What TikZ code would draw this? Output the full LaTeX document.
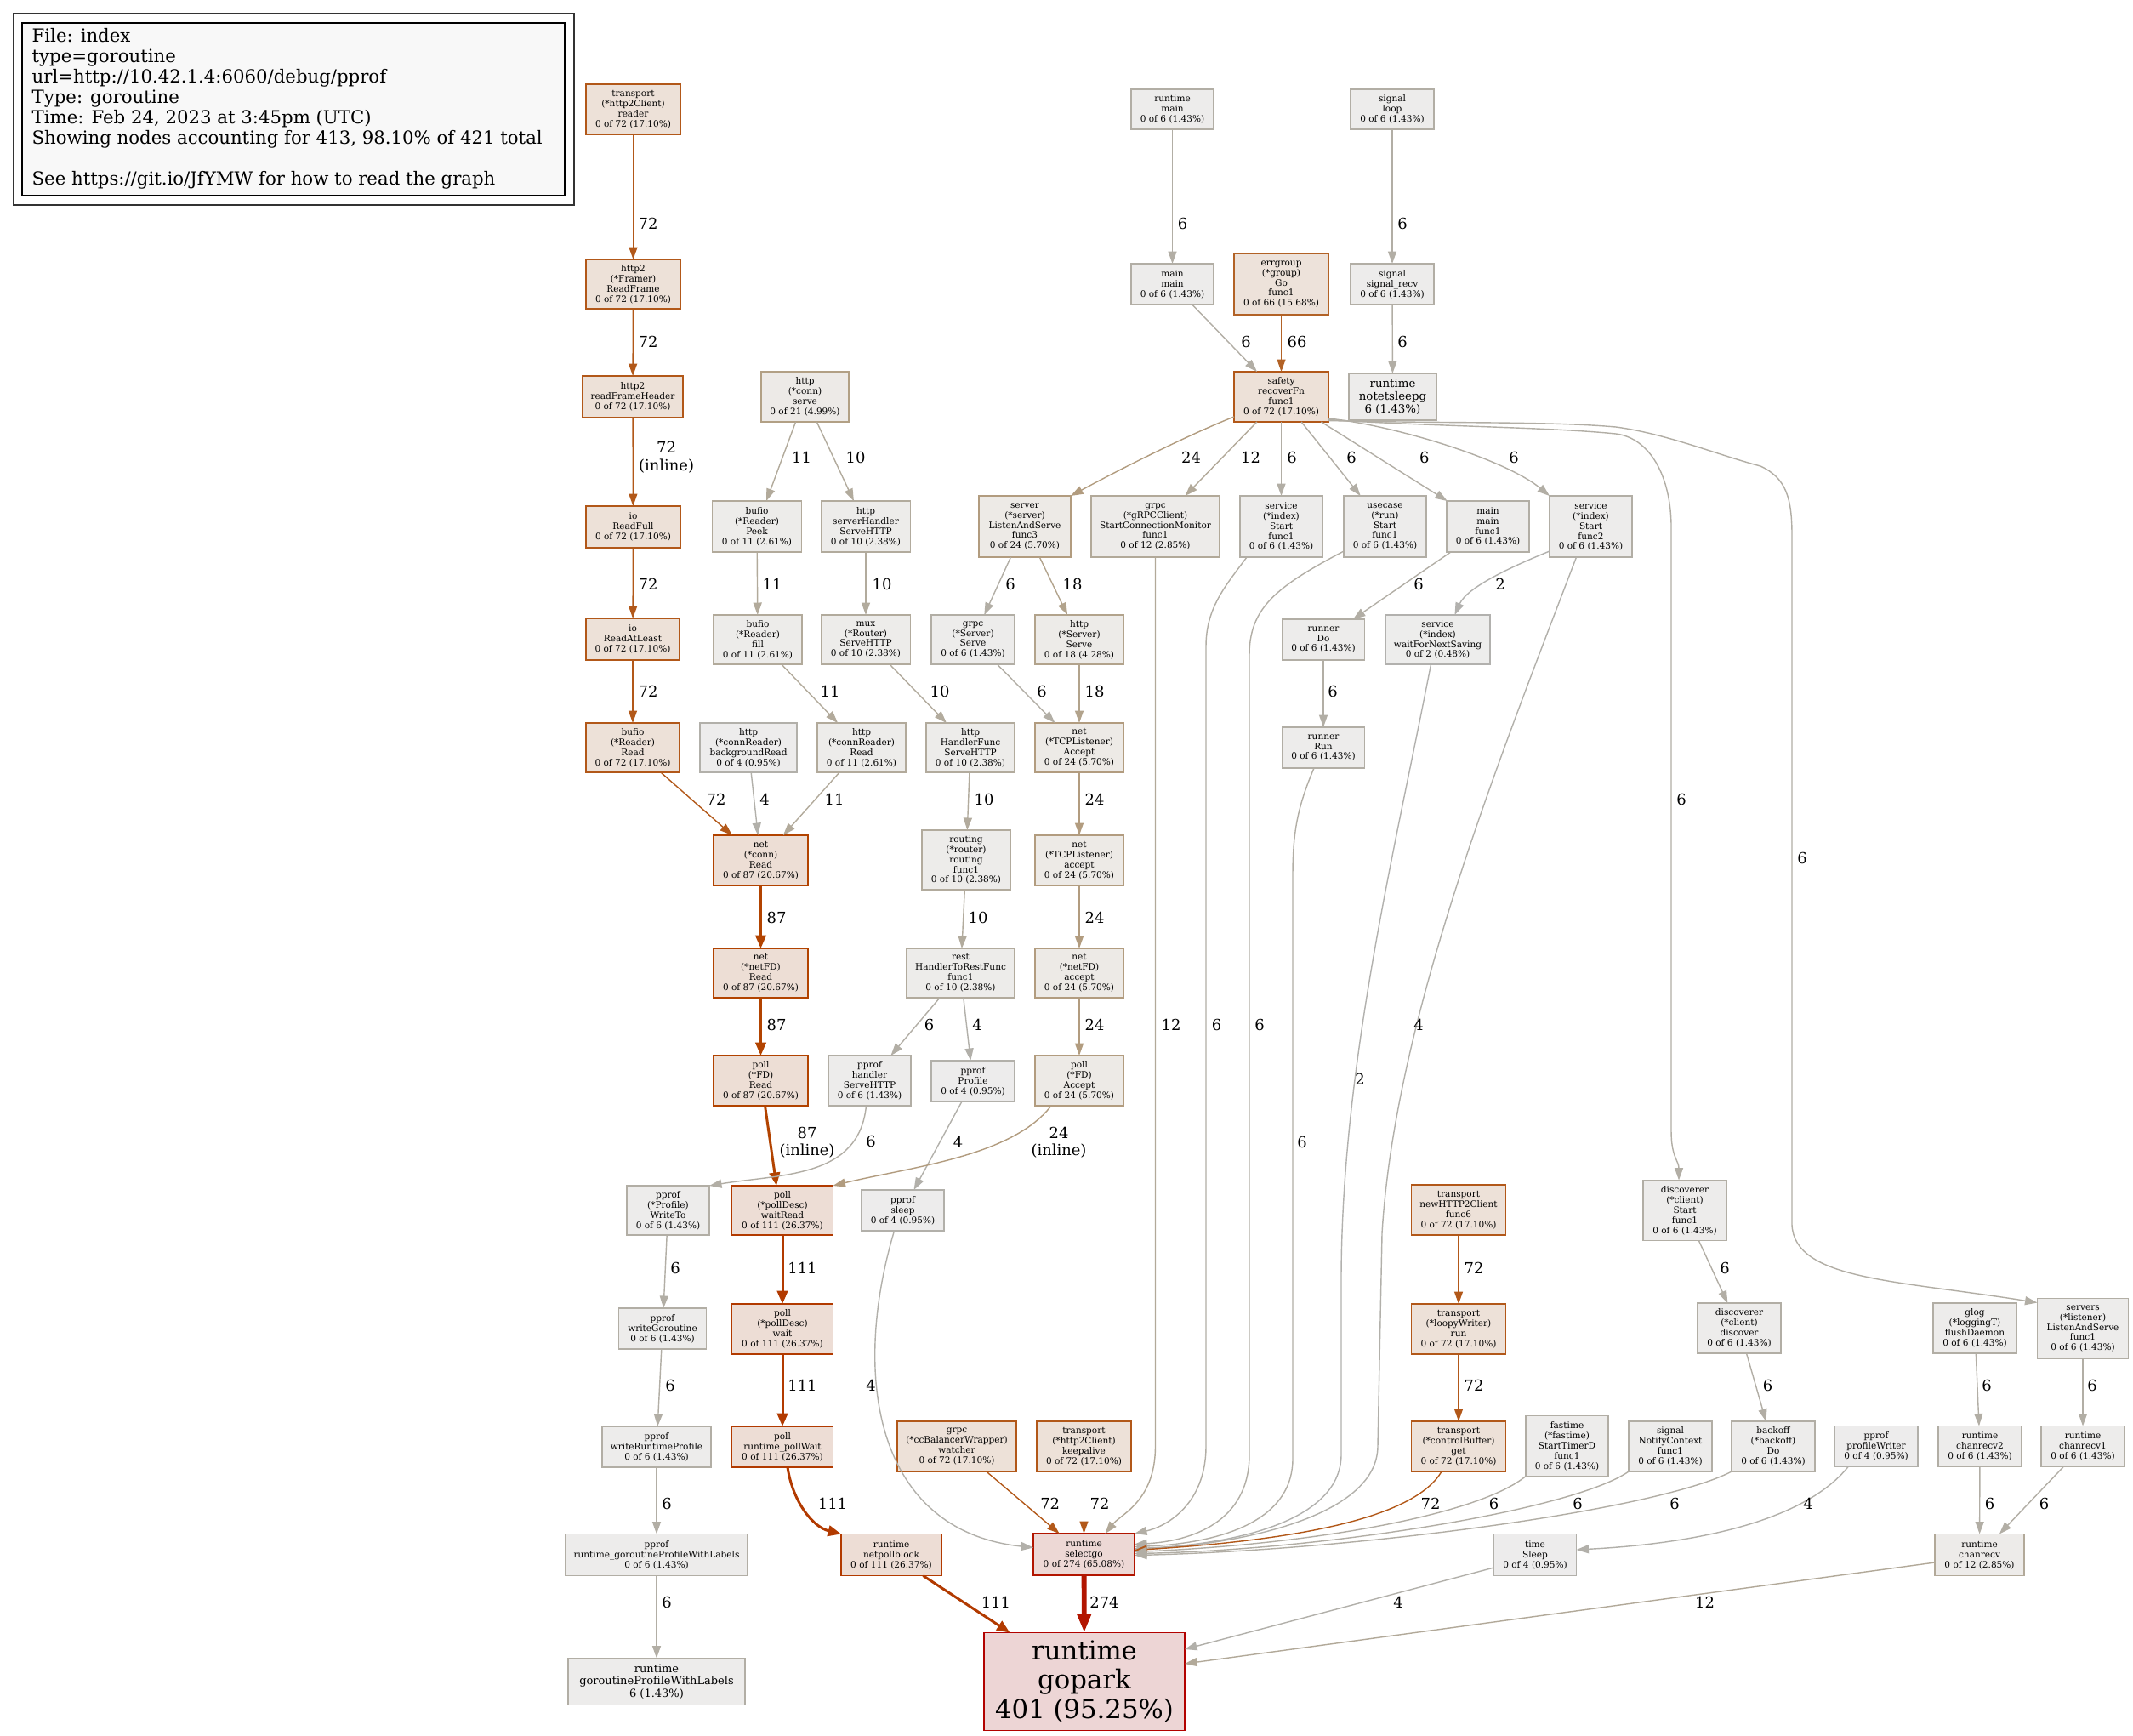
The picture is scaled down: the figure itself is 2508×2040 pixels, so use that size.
\documentclass[tikz,border=0pt]{standalone}
\usepackage{fontspec}
\setmainfont{DejaVu Serif}
\newfontfamily\gvfont{DejaVu Serif}
\usetikzlibrary{arrows.meta,calc}

% weight colours: gvcN = border / edge, gvfN = fill
\definecolor{gvc2}{HTML}{B2B1AE}   \definecolor{gvf2}{HTML}{EDEDEC}
\definecolor{gvc4}{HTML}{B2B0AA}   \definecolor{gvf4}{HTML}{EDECEC}
\definecolor{gvc6}{HTML}{B2AEA5}   \definecolor{gvf6}{HTML}{EDECEB}
\definecolor{gvc10}{HTML}{B2AB9D}  \definecolor{gvf10}{HTML}{EDECEA}
\definecolor{gvc11}{HTML}{B2AA9B}  \definecolor{gvf11}{HTML}{EDECEA}
\definecolor{gvc12}{HTML}{B2A999}  \definecolor{gvf12}{HTML}{EDEBE9}
\definecolor{gvc18}{HTML}{B2A38C}  \definecolor{gvf18}{HTML}{EDEBE8}
\definecolor{gvc21}{HTML}{B2A085}  \definecolor{gvf21}{HTML}{EDEAE7}
\definecolor{gvc24}{HTML}{B29C7F}  \definecolor{gvf24}{HTML}{EDEAE6}
\definecolor{gvc66}{HTML}{B26226}  \definecolor{gvf66}{HTML}{EDE2DA}
\definecolor{gvc72}{HTML}{B25819}  \definecolor{gvf72}{HTML}{EDE1D8}
\definecolor{gvc87}{HTML}{B24300}  \definecolor{gvf87}{HTML}{EDDED5}
\definecolor{gvc111}{HTML}{B23A00} \definecolor{gvf111}{HTML}{EDDDD5}
\definecolor{gvc274}{HTML}{B21500} \definecolor{gvf274}{HTML}{EDD8D5}
\definecolor{gvc401}{HTML}{B20200} \definecolor{gvf401}{HTML}{EDD5D5}
\definecolor{legfill}{HTML}{F8F8F8}

\tikzset{
  gvbox/.style={rectangle, inner sep=0pt, outer sep=0pt, align=center, line width=1pt,
    font=\gvfont\fontsize{6}{6.8}\selectfont},
  n2/.style={gvbox, draw=gvc2, fill=gvf2},
  n4/.style={gvbox, draw=gvc4, fill=gvf4},
  n6/.style={gvbox, draw=gvc6, fill=gvf6},
  n10/.style={gvbox, draw=gvc10, fill=gvf10},
  n11/.style={gvbox, draw=gvc11, fill=gvf11},
  n12/.style={gvbox, draw=gvc12, fill=gvf12},
  n18/.style={gvbox, draw=gvc18, fill=gvf18},
  n21/.style={gvbox, draw=gvc21, fill=gvf21},
  n24/.style={gvbox, draw=gvc24, fill=gvf24},
  n66/.style={gvbox, draw=gvc66, fill=gvf66},
  n72/.style={gvbox, draw=gvc72, fill=gvf72},
  n87/.style={gvbox, draw=gvc87, fill=gvf87},
  n111/.style={gvbox, draw=gvc111, fill=gvf111},
  n274/.style={gvbox, draw=gvc274, fill=gvf274},
  n401/.style={gvbox, draw=gvc401, fill=gvf401},
  link/.style={line width=0.8pt, -{Triangle[length=0.29cm,width=0.2cm]}},
  linkb/.style={line width=1.7pt, -{Triangle[length=0.31cm,width=0.25cm]}},
  linkc/.style={line width=3.3pt, -{Triangle[length=0.45cm,width=0.32cm]}},
  w2/.style={link, draw=gvc2},
  w4/.style={link, draw=gvc4},
  w6/.style={link, draw=gvc6},
  w10/.style={link, draw=gvc10},
  w11/.style={link, draw=gvc11},
  w12/.style={link, draw=gvc12},
  w18/.style={link, draw=gvc18},
  w24/.style={link, draw=gvc24},
  w66/.style={link, draw=gvc66},
  w72/.style={link, draw=gvc72},
  w87/.style={linkb, draw=gvc87},
  w111/.style={linkb, draw=gvc111},
  w274/.style={linkc, draw=gvc274},
  lbl/.style={font=\gvfont\fontsize{10.2}{11.7}\selectfont, inner sep=0pt, align=center, text=black},
  legtext/.style={anchor=base west, inner sep=0pt, font=\gvfont\fontsize{12.1}{13.6}\selectfont},
}

% \gvnode{name}{x}{y}{width}{height}{style}{label}
\newcommand\gvnode[7]{\node[#6, minimum width=#4*0.02cm, minimum height=#5*0.02cm] (#1) at (#2,#3) {#7};}

\begin{document}
\begin{tikzpicture}[x=0.02cm, y=-0.02cm]
\useasboundingbox[fill=white] (0,0) rectangle (2508,2040);

% legend
\node[draw=black!80, line width=1pt, minimum width=659*0.02cm, minimum height=225*0.02cm, inner sep=0pt] (legframe) at (345.5,128.5) {};
\node[draw=black, fill=legfill, line width=1pt, minimum width=638*0.02cm, minimum height=203*0.02cm, inner sep=0pt] (legbox) at (345,128.5) {};
\node[legtext] (leg1) at (37.3,49.3) {File: index};
\node[legtext] (leg2) at (37.3,73.3) {type=goroutine};
\node[legtext] (leg3) at (37.3,97.3) {url=http://10.42.1.4:6060/debug/pprof};
\node[legtext] (leg4) at (37.3,121.3) {Type: goroutine};
\node[legtext] (leg5) at (37.3,145.3) {Time: Feb 24, 2023 at 3:45pm (UTC)};
\node[legtext] (leg6) at (37.3,169.3) {Showing nodes accounting for 413, 98.10\% of 421 total};
\node[legtext] (leg7) at (37.3,217.3) {See https://git.io/JfYMW for how to read the graph};

% nodes
\gvnode{trreader}{744.5}{128.5}{111}{59}{n72}{transport\\(*http2Client)\\reader\\0 of 72 (17.10\%)}
\gvnode{framer}{744.5}{334}{111}{58}{n72}{http2\\(*Framer)\\ReadFrame\\0 of 72 (17.10\%)}
\gvnode{rfh}{744}{466.5}{118}{49}{n72}{http2\\readFrameHeader\\0 of 72 (17.10\%)}
\gvnode{readfull}{744.5}{619.5}{111}{49}{n72}{io\\ReadFull\\0 of 72 (17.10\%)}
\gvnode{readatleast}{744}{751.5}{110}{49}{n72}{io\\ReadAtLeast\\0 of 72 (17.10\%)}
\gvnode{bufread}{744}{879}{110}{58}{n72}{bufio\\(*Reader)\\Read\\0 of 72 (17.10\%)}
\gvnode{connserve}{946.5}{466.5}{103}{59}{n21}{http\\(*conn)\\serve\\0 of 21 (4.99\%)}
\gvnode{peek}{890}{619}{105}{60}{n11}{bufio\\(*Reader)\\Peek\\0 of 11 (2.61\%)}
\gvnode{shserve}{1018}{619}{105}{60}{n10}{http\\serverHandler\\ServeHTTP\\0 of 10 (2.38\%)}
\gvnode{lasf3}{1205}{619}{108}{72}{n24}{server\\(*server)\\ListenAndServe\\func3\\0 of 24 (5.70\%)}
\gvnode{scm}{1358.5}{619}{151}{72}{n12}{grpc\\(*gRPCClient)\\StartConnectionMonitor\\func1\\0 of 12 (2.85\%)}
\gvnode{rtmain}{1378.5}{128.5}{97}{47}{n6}{runtime\\main\\0 of 6 (1.43\%)}
\gvnode{mainmain}{1378.5}{334}{97}{48}{n6}{main\\main\\0 of 6 (1.43\%)}
\gvnode{errgroup}{1506.5}{334}{111}{72}{n66}{errgroup\\(*group)\\Go\\func1\\0 of 66 (15.68\%)}
\gvnode{sigloop}{1637}{128.5}{98}{47}{n6}{signal\\loop\\0 of 6 (1.43\%)}
\gvnode{sigrecv}{1637}{334}{98}{48}{n6}{signal\\signal\_recv\\0 of 6 (1.43\%)}
\gvnode{recover}{1506.5}{466.5}{111}{59}{n72}{safety\\recoverFn\\func1\\0 of 72 (17.10\%)}
\gvnode{notetsleepg}{1637.5}{466.5}{103}{55}{n6,font=\gvfont\fontsize{7.6}{8.5}\selectfont}{runtime\\notetsleepg\\6 (1.43\%)}
\gvnode{sf1}{1506.5}{619}{97}{72}{n6}{service\\(*index)\\Start\\func1\\0 of 6 (1.43\%)}
\gvnode{usecase}{1628.5}{619}{97}{72}{n6}{usecase\\(*run)\\Start\\func1\\0 of 6 (1.43\%)}
\gvnode{mmf1}{1749.5}{619}{97}{60}{n6}{main\\main\\func1\\0 of 6 (1.43\%)}
\gvnode{sf2}{1870.5}{619}{97}{72}{n6}{service\\(*index)\\Start\\func2\\0 of 6 (1.43\%)}
\gvnode{fill}{891}{752}{104}{58}{n11}{bufio\\(*Reader)\\fill\\0 of 11 (2.61\%)}
\gvnode{mux}{1018}{752}{105}{58}{n10}{mux\\(*Router)\\ServeHTTP\\0 of 10 (2.38\%)}
\gvnode{grpcserve}{1144}{752}{98}{58}{n6}{grpc\\(*Server)\\Serve\\0 of 6 (1.43\%)}
\gvnode{httpserve}{1269}{752}{104}{58}{n18}{http\\(*Server)\\Serve\\0 of 18 (4.28\%)}
\gvnode{bgread}{880}{879}{114}{58}{n4}{http\\(*connReader)\\backgroundRead\\0 of 4 (0.95\%)}
\gvnode{crread}{1013}{879}{104}{58}{n11}{http\\(*connReader)\\Read\\0 of 11 (2.61\%)}
\gvnode{hfserve}{1141}{879}{104}{58}{n10}{http\\HandlerFunc\\ServeHTTP\\0 of 10 (2.38\%)}
\gvnode{tcpAccept}{1269}{879}{104}{58}{n24}{net\\(*TCPListener)\\Accept\\0 of 24 (5.70\%)}
\gvnode{connread}{894.5}{1011.5}{111}{59}{n87}{net\\(*conn)\\Read\\0 of 87 (20.67\%)}
\gvnode{routing}{1136}{1011}{104}{70}{n10}{routing\\(*router)\\routing\\func1\\0 of 10 (2.38\%)}
\gvnode{tcpaccept}{1269}{1011.5}{104}{59}{n24}{net\\(*TCPListener)\\accept\\0 of 24 (5.70\%)}
\gvnode{fdread}{894.5}{1144}{111}{58}{n87}{net\\(*netFD)\\Read\\0 of 87 (20.67\%)}
\gvnode{rest}{1129.5}{1144}{127}{58}{n10}{rest\\HandlerToRestFunc\\func1\\0 of 10 (2.38\%)}
\gvnode{fdaccept}{1269}{1144}{104}{58}{n24}{net\\(*netFD)\\accept\\0 of 24 (5.70\%)}
\gvnode{pollfdread}{894.5}{1270.5}{111}{59}{n87}{poll\\(*FD)\\Read\\0 of 87 (20.67\%)}
\gvnode{pphandler}{1022.5}{1270.5}{97}{59}{n6}{pprof\\handler\\ServeHTTP\\0 of 6 (1.43\%)}
\gvnode{ppprofile}{1144}{1271}{98}{48}{n4}{pprof\\Profile\\0 of 4 (0.95\%)}
\gvnode{pollaccept}{1269}{1270.5}{104}{59}{n24}{poll\\(*FD)\\Accept\\0 of 24 (5.70\%)}
\gvnode{writeto}{785.5}{1423}{97}{58}{n6}{pprof\\(*Profile)\\WriteTo\\0 of 6 (1.43\%)}
\gvnode{waitread}{920}{1423}{119}{58}{n111}{poll\\(*pollDesc)\\waitRead\\0 of 111 (26.37\%)}
\gvnode{ppsleep}{1061.5}{1423}{97}{48}{n4}{pprof\\sleep\\0 of 4 (0.95\%)}
\gvnode{writegor}{779}{1562}{103}{48}{n6}{pprof\\writeGoroutine\\0 of 6 (1.43\%)}
\gvnode{pdwait}{920}{1562.5}{119}{59}{n111}{poll\\(*pollDesc)\\wait\\0 of 111 (26.37\%)}
\gvnode{wrp}{772}{1701}{128}{48}{n6}{pprof\\writeRuntimeProfile\\0 of 6 (1.43\%)}
\gvnode{pollwait}{920}{1701}{119}{48}{n111}{poll\\runtime\_pollWait\\0 of 111 (26.37\%)}
\gvnode{watcher}{1125}{1700.5}{140}{59}{n72}{grpc\\(*ccBalancerWrapper)\\watcher\\0 of 72 (17.10\%)}
\gvnode{keepalive}{1274.5}{1700.5}{111}{59}{n72}{transport\\(*http2Client)\\keepalive\\0 of 72 (17.10\%)}
\gvnode{rgpwl}{772}{1828}{214}{49}{n6}{pprof\\runtime\_goroutineProfileWithLabels\\0 of 6 (1.43\%)}
\gvnode{netpollblock}{1048}{1828}{118}{49}{n111}{runtime\\netpollblock\\0 of 111 (26.37\%)}
\gvnode{selectgo}{1274.5}{1827.5}{119}{49}{n274}{runtime\\selectgo\\0 of 274 (65.08\%)}
\gvnode{gpwl}{772}{1977}{208}{55}{n6,font=\gvfont\fontsize{7.4}{8.3}\selectfont}{runtime\\goroutineProfileWithLabels\\6 (1.43\%)}
\gvnode{gopark}{1275}{1977}{236}{115}{n401,font=\gvfont\fontsize{17.5}{19.8}\selectfont}{runtime\\gopark\\401 (95.25\%)}
\gvnode{h2c}{1715}{1422.5}{111}{59}{n72}{transport\\newHTTP2Client\\func6\\0 of 72 (17.10\%)}
\gvnode{loopy}{1715}{1562.5}{111}{59}{n72}{transport\\(*loopyWriter)\\run\\0 of 72 (17.10\%)}
\gvnode{cbget}{1715}{1700.5}{111}{59}{n72}{transport\\(*controlBuffer)\\get\\0 of 72 (17.10\%)}
\gvnode{fastime}{1842.5}{1700}{97}{71}{n6}{fastime\\(*fastime)\\StartTimerD\\func1\\0 of 6 (1.43\%)}
\gvnode{timesleep}{1805}{1828}{97}{49}{n4}{time\\Sleep\\0 of 4 (0.95\%)}
\gvnode{discstart}{1981}{1423}{98}{71}{n6}{discoverer\\(*client)\\Start\\func1\\0 of 6 (1.43\%)}
\gvnode{disc}{2045}{1561.5}{98}{59}{n6}{discoverer\\(*client)\\discover\\0 of 6 (1.43\%)}
\gvnode{notify}{1964}{1700.5}{98}{59}{n6}{signal\\NotifyContext\\func1\\0 of 6 (1.43\%)}
\gvnode{backoff}{2085}{1700.5}{98}{59}{n6}{backoff\\(*backoff)\\Do\\0 of 6 (1.43\%)}
\gvnode{profw}{2206}{1700.5}{98}{48}{n4}{pprof\\profileWriter\\0 of 4 (0.95\%)}
\gvnode{glog}{2322}{1561.5}{98}{59}{n6}{glog\\(*loggingT)\\flushDaemon\\0 of 6 (1.43\%)}
\gvnode{servers}{2449}{1562}{107}{71}{n6}{servers\\(*listener)\\ListenAndServe\\func1\\0 of 6 (1.43\%)}
\gvnode{chanrecvtwo}{2328}{1700.5}{98}{48}{n6}{runtime\\chanrecv2\\0 of 6 (1.43\%)}
\gvnode{chanrecvone}{2449}{1700.5}{98}{48}{n6}{runtime\\chanrecv1\\0 of 6 (1.43\%)}
\gvnode{chanrecv}{2327.5}{1828}{105}{49}{n12}{runtime\\chanrecv\\0 of 12 (2.85\%)}
\gvnode{runnerdo}{1556}{752}{97}{48}{n6}{runner\\Do\\0 of 6 (1.43\%)}
\gvnode{wfns}{1690.5}{752}{123}{58}{n2}{service\\(*index)\\waitForNextSaving\\0 of 2 (0.48\%)}
\gvnode{runnerrun}{1556}{879}{97}{48}{n6}{runner\\Run\\0 of 6 (1.43\%)}

% edges: http2 reader chain
\draw[w72] (trreader) -- (framer) node[lbl] at (762,263) {72};
\draw[w72] (framer) -- (rfh) node[lbl] at (762,401.6) {72};
\draw[w72] (rfh) -- (readfull) node[lbl] at (783.6,538) {72\\(inline)};
\draw[w72] (readfull) -- (readatleast) node[lbl] at (762,687) {72};
\draw[w72] (readatleast) -- (bufread) node[lbl] at (762,813) {72};
\draw[w72] (bufread) -- (connread) node[lbl] at (842,940) {72};
\draw[w4] (bgread) -- (connread) node[lbl] at (899,940) {4};
\draw[w11] (crread) -- (connread) node[lbl] at (981,940) {11};
\draw[w87] (connread) -- (fdread) node[lbl] at (913,1079) {87};
\draw[w87] (fdread) -- (pollfdread) node[lbl] at (913,1205) {87};
\draw[w87] ($(pollfdread.south)+(5,0)$) -- ($(waitread.north)+(-7,0)$) node[lbl] at (949,1343) {87\\(inline)};

% http server side
\draw[w11] (connserve) -- (peek) node[lbl] at (942.6,538) {11};
\draw[w10] (connserve) -- (shserve) node[lbl] at (1006,538) {10};
\draw[w11] (peek) -- (fill) node[lbl] at (908,687) {11};
\draw[w10] (shserve) -- (mux) node[lbl] at (1037,687) {10};
\draw[w11] (fill) -- (crread) node[lbl] at (976,813) {11};
\draw[w10] (mux) -- (hfserve) node[lbl] at (1105,813) {10};
\draw[w6] (lasf3) -- (grpcserve) node[lbl] at (1188,687) {6};
\draw[w18] (lasf3) -- (httpserve) node[lbl] at (1261,687) {18};
\draw[w6] (grpcserve) -- (tcpAccept) node[lbl] at (1225,813) {6};
\draw[w18] (httpserve) -- (tcpAccept) node[lbl] at (1287,813) {18};
\draw[w10] (hfserve) -- (routing) node[lbl] at (1157,940) {10};
\draw[w24] (tcpAccept) -- (tcpaccept) node[lbl] at (1287,940) {24};
\draw[w10] (routing) -- (rest) node[lbl] at (1150,1079) {10};
\draw[w24] (tcpaccept) -- (fdaccept) node[lbl] at (1287,1079) {24};
\draw[w6] (rest) -- (pphandler) node[lbl] at (1092.6,1205) {6};
\draw[w4] (rest) -- (ppprofile) node[lbl] at (1149,1205) {4};
\draw[w24] (fdaccept) -- (pollaccept) node[lbl] at (1287,1205) {24};
\draw[w6] ($(pphandler.south)+(-4,0)$) .. controls (1010,1385) and (920,1380) .. (writeto.north east) node[lbl] at (1024,1342) {6};
\draw[w4] (ppprofile) -- (ppsleep) node[lbl] at (1126.6,1342.5) {4};
\draw[w24] ($(pollaccept.south)+(-33,0)$) .. controls (1190,1360) and (1070,1372) .. (waitread.north east) node[lbl] at (1245,1343) {24\\(inline)};

% profile and poll chains
\draw[w6] (writeto) -- (writegor) node[lbl] at (794,1491) {6};
\draw[w111] (waitread) -- (pdwait) node[lbl] at (943.5,1491) {111};
\draw[w6] (writegor) -- (wrp) node[lbl] at (788,1629) {6};
\draw[w111] (pdwait) -- (pollwait) node[lbl] at (943.5,1629) {111};
\draw[w6] (wrp) -- (rgpwl) node[lbl] at (784,1768) {6};
\draw[w111] ($(pollwait.south)+(6,0)$) .. controls (932,1765) and (955,1795) .. (netpollblock.north west) node[lbl] at (979,1768) {111};
\draw[w6] (rgpwl) -- (gpwl) node[lbl] at (784,1884) {6};
\draw[w111] (netpollblock) -- (gopark) node[lbl] at (1171,1884) {111};
\draw[w274] (selectgo) -- (gopark) node[lbl] at (1298.5,1884) {274};
\draw[w4] ($(ppsleep.south)+(-10,0)$) .. controls (1000,1620) and (1030,1800) .. ($(selectgo.west)+(0,-8)$) node[lbl] at (1024,1629) {4};
\draw[w72] (watcher) -- (selectgo) node[lbl] at (1234.7,1768) {72};
\draw[w72] (keepalive) -- (selectgo) node[lbl] at (1293,1768) {72};

% long edges into selectgo
\draw[w12] (scm.south) -- (1358.5,1700) .. controls (1358.5,1765) and (1318,1780) .. ($(selectgo.north)+(25,0)$) node[lbl] at (1377,1205) {12};
\draw[w6] ($(sf1.south west)+(8,0)$) .. controls (1440,690) and (1418,715) .. (1418,760) -- (1418,1700) .. controls (1418,1770) and (1370,1795) .. (selectgo.north east) node[lbl] at (1430.6,1205) {6};
\draw[w6] ($(usecase.south west)+(0,-7)$) .. controls (1500,690) and (1469,715) .. (1469,770) -- (1469,1710) .. controls (1469,1790) and (1400,1812) .. ($(selectgo.east)+(0,-12)$) node[lbl] at (1481,1205) {6};
\draw[w6] ($(runnerrun.south)+(-11,0)$) .. controls (1525,950) and (1520,980) .. (1520,1030) -- (1520,1715) .. controls (1520,1795) and (1420,1815) .. ($(selectgo.east)+(0,-9)$) node[lbl] at (1531,1342.5) {6};
\draw[w2] ($(wfns.south)+(-8,0)$) .. controls (1640,1000) and (1578,1250) .. (1577,1500) -- (1577,1710) .. controls (1577,1795) and (1430,1817) .. ($(selectgo.east)+(0,-7)$) node[lbl] at (1599,1269) {2};
\draw[w4] ($(sf2.south)+(-17,0)$) .. controls (1760,900) and (1640,1200) .. (1625,1450) -- (1620,1700) .. controls (1620,1790) and (1430,1818) .. ($(selectgo.east)+(0,-6)$) node[lbl] at (1668,1205) {4};
\draw[w72] ($(cbget.south)+(-20,0)$) .. controls (1660,1790) and (1500,1812) .. ($(selectgo.east)+(0,-5)$) node[lbl] at (1682,1768) {72};
\draw[w6] (fastime.south west) .. controls (1740,1780) and (1550,1815) .. ($(selectgo.east)+(0,-3)$) node[lbl] at (1756.5,1768) {6};
\draw[w6] (notify.south west) .. controls (1850,1775) and (1560,1822) .. ($(selectgo.east)+(0,-1)$) node[lbl] at (1855,1768) {6};
\draw[w6] (backoff.south west) .. controls (1950,1775) and (1600,1822) .. ($(selectgo.east)+(0,1)$) node[lbl] at (1969,1768) {6};

% recoverFn fan-out
\draw[w6] (rtmain) -- (mainmain) node[lbl] at (1390.6,263) {6};
\draw[w6] (mainmain) -- (recover) node[lbl] at (1465,401.6) {6};
\draw[w66] (errgroup) -- (recover) node[lbl] at (1525,401.6) {66};
\draw[w6] (sigloop) -- (sigrecv) node[lbl] at (1649,263) {6};
\draw[w6] (sigrecv) -- (notetsleepg) node[lbl] at (1649,401.6) {6};
\draw[w24] ($(recover.west)+(0,23.5)$) .. controls (1400,510) and (1320,550) .. (lasf3.north east) node[lbl] at (1400.6,538) {24};
\draw[w12] (recover) -- (scm) node[lbl] at (1470.6,538) {12};
\draw[w6] (recover) -- (sf1) node[lbl] at (1519,538) {6};
\draw[w6] (recover) -- (usecase) node[lbl] at (1589,538) {6};
\draw[w6] (recover) -- (mmf1) node[lbl] at (1674.7,538) {6};
\draw[w6] ($(recover.east)+(0,25.5)$) .. controls (1640,500) and (1770,540) .. (sf2.north west) node[lbl] at (1780,538) {6};
\draw[w6] ($(recover.east)+(0,27)$) .. controls (1700,502) and (1820,502) .. (1900,510) .. controls (1940,515) and (1965,560) .. (1965,620) -- (1965,1330) .. controls (1965,1360) and (1974,1365) .. ($(discstart.north)+(-7,0)$) node[lbl] at (1977,940) {6};
\draw[w6] ($(recover.east)+(0,28)$) .. controls (1700,498) and (1820,495) .. (1900,502) .. controls (1960,510) and (2020,535) .. (2070,548) .. controls (2100,562) and (2107,585) .. (2107,630) -- (2107,1440) .. controls (2110,1505) and (2230,1505) .. ($(servers.north west)+(0,5)$) node[lbl] at (2119,1009) {6};
\draw[w6] (mmf1) -- (runnerdo) node[lbl] at (1668,687) {6};
\draw[w2] ($(sf2.south west)+(0,-7)$) .. controls (1780,665) and (1725,690) .. ($(wfns.north)+(20,0)$) node[lbl] at (1764,687) {2};
\draw[w6] (runnerdo) -- (runnerrun) node[lbl] at (1567,813) {6};

% right-hand side
\draw[w72] (h2c) -- (loopy) node[lbl] at (1733,1491) {72};
\draw[w72] (loopy) -- (cbget) node[lbl] at (1733,1629) {72};
\draw[w6] (discstart) -- (disc) node[lbl] at (2028,1491) {6};
\draw[w6] (disc) -- (backoff) node[lbl] at (2078.6,1629) {6};
\draw[w4] ($(profw.south west)+(16,0)$) .. controls (2120,1790) and (1990,1815) .. ($(timesleep.east)+(0,-6)$) node[lbl] at (2126,1768) {4};
\draw[w6] (glog) -- (chanrecvtwo) node[lbl] at (2336,1629) {6};
\draw[w6] (servers) -- (chanrecvone) node[lbl] at (2460,1629) {6};
\draw[w6] (chanrecvtwo) -- (chanrecv) node[lbl] at (2339.5,1768) {6};
\draw[w6] (chanrecvone) -- (chanrecv) node[lbl] at (2403.6,1768) {6};
\draw[w4] ($(timesleep.west)+(0,15)$) -- ($(gopark.east)+(0,-38)$) node[lbl] at (1644,1884) {4};
\draw[w12] ($(chanrecv.west)+(0,9)$) -- ($(gopark.east)+(0,-21)$) node[lbl] at (2004.5,1884) {12};
\end{tikzpicture}
\end{document}
